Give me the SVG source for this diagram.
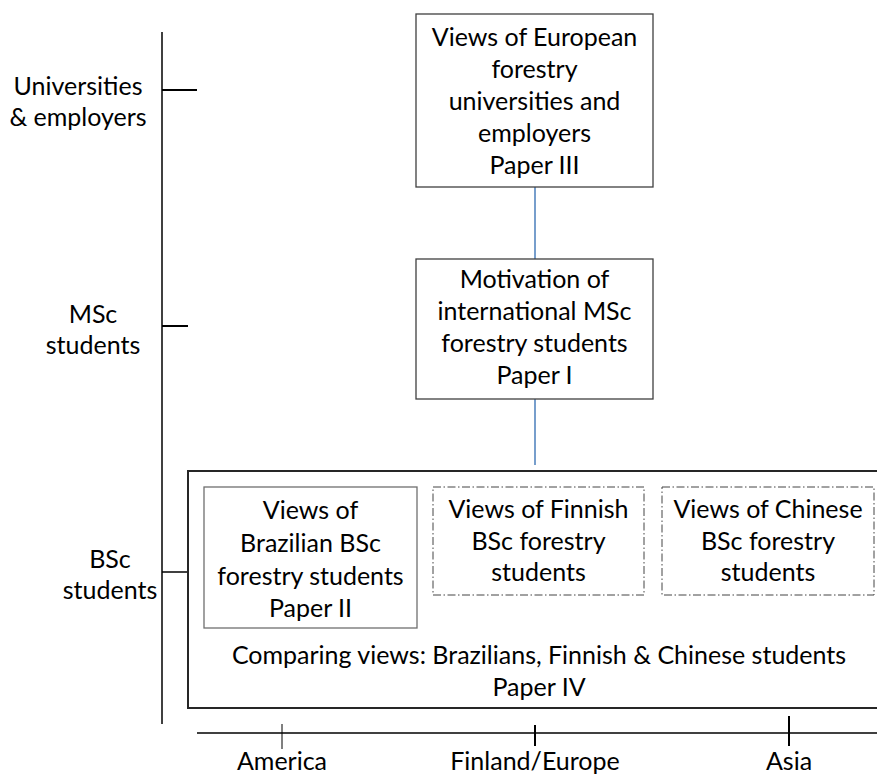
<svg xmlns="http://www.w3.org/2000/svg" width="877" height="774" viewBox="0 0 877 774">
<style>
text{font-family:Lato,"Open Sans","Liberation Sans",sans-serif;font-size:25px;fill:#000;text-anchor:middle}
.box{fill:#fff;stroke:#3f3f3f;stroke-width:1.3}
.big{fill:#fff;stroke:#262626;stroke-width:2}
.dash{fill:#fff;stroke:#444;stroke-width:1;stroke-dasharray:8 2.5 1.5 2.5}
.axis{stroke:#000;stroke-width:1.5;fill:none}
.tick{stroke:#000;stroke-width:2;fill:none}
.conn{stroke:#4a7ebb;stroke-width:1.5;fill:none}
</style>
<g id="axes">
<line class="axis" x1="162" y1="32" x2="162" y2="724"/>
<line class="tick" x1="162" y1="90" x2="197" y2="90"/>
<line class="tick" x1="162" y1="326" x2="188" y2="326"/>
<line class="axis" x1="162" y1="572" x2="188" y2="572"/>
<line class="axis" x1="197" y1="733" x2="877" y2="733"/>
<line class="axis" x1="282" y1="724" x2="282" y2="749" style="stroke-width:1"/>
<line class="tick" x1="535" y1="725" x2="535" y2="746"/>
<line class="tick" x1="789" y1="716" x2="789" y2="746"/>
<text x="78" y="95">Universities</text>
<text x="78" y="126">&amp; employers</text>
<text x="93" y="323">MSc</text>
<text x="93" y="354">students</text>
<text x="110" y="568">BSc</text>
<text x="110" y="599">students</text>
<text x="282" y="770">America</text>
<text x="535" y="770">Finland/Europe</text>
<text x="789" y="770">Asia</text>
</g>
<g id="connectors">
<line class="conn" x1="535" y1="187" x2="535" y2="259"/>
<line class="conn" x1="535" y1="399" x2="535" y2="465"/>
</g>
<g id="paper3">
<rect class="box" x="416" y="14" width="237" height="173"/>
<text x="534.5" y="46">Views of European</text>
<text x="534.5" y="78">forestry</text>
<text x="534.5" y="110">universities and</text>
<text x="534.5" y="142">employers</text>
<text x="534.5" y="174">Paper III</text>
</g>
<g id="paper1">
<rect class="box" x="416" y="259" width="237" height="140"/>
<text x="534.5" y="288">Motivation of</text>
<text x="534.5" y="320">international MSc</text>
<text x="534.5" y="352">forestry students</text>
<text x="534.5" y="384">Paper I</text>
</g>
<g id="paper4">
<rect class="big" x="188" y="471" width="700" height="237"/>
<text x="539" y="664">Comparing views: Brazilians, Finnish &amp; Chinese students</text>
<text x="539" y="696">Paper IV</text>
</g>
<g id="paper2">
<rect class="box" x="204" y="487" width="213" height="141" style="stroke:#6f6f6f"/>
<text x="310.5" y="519">Views of</text>
<text x="310.5" y="552">Brazilian BSc</text>
<text x="310.5" y="585">forestry students</text>
<text x="310.5" y="617">Paper II</text>
</g>
<g id="finnish">
<rect class="dash" x="433" y="487" width="211" height="108"/>
<text x="538.5" y="518">Views of Finnish</text>
<text x="538.5" y="550">BSc forestry</text>
<text x="538.5" y="581">students</text>
</g>
<g id="chinese">
<rect class="dash" x="662" y="487" width="212" height="108"/>
<text x="768" y="518">Views of Chinese</text>
<text x="768" y="550">BSc forestry</text>
<text x="768" y="581">students</text>
</g>
</svg>
